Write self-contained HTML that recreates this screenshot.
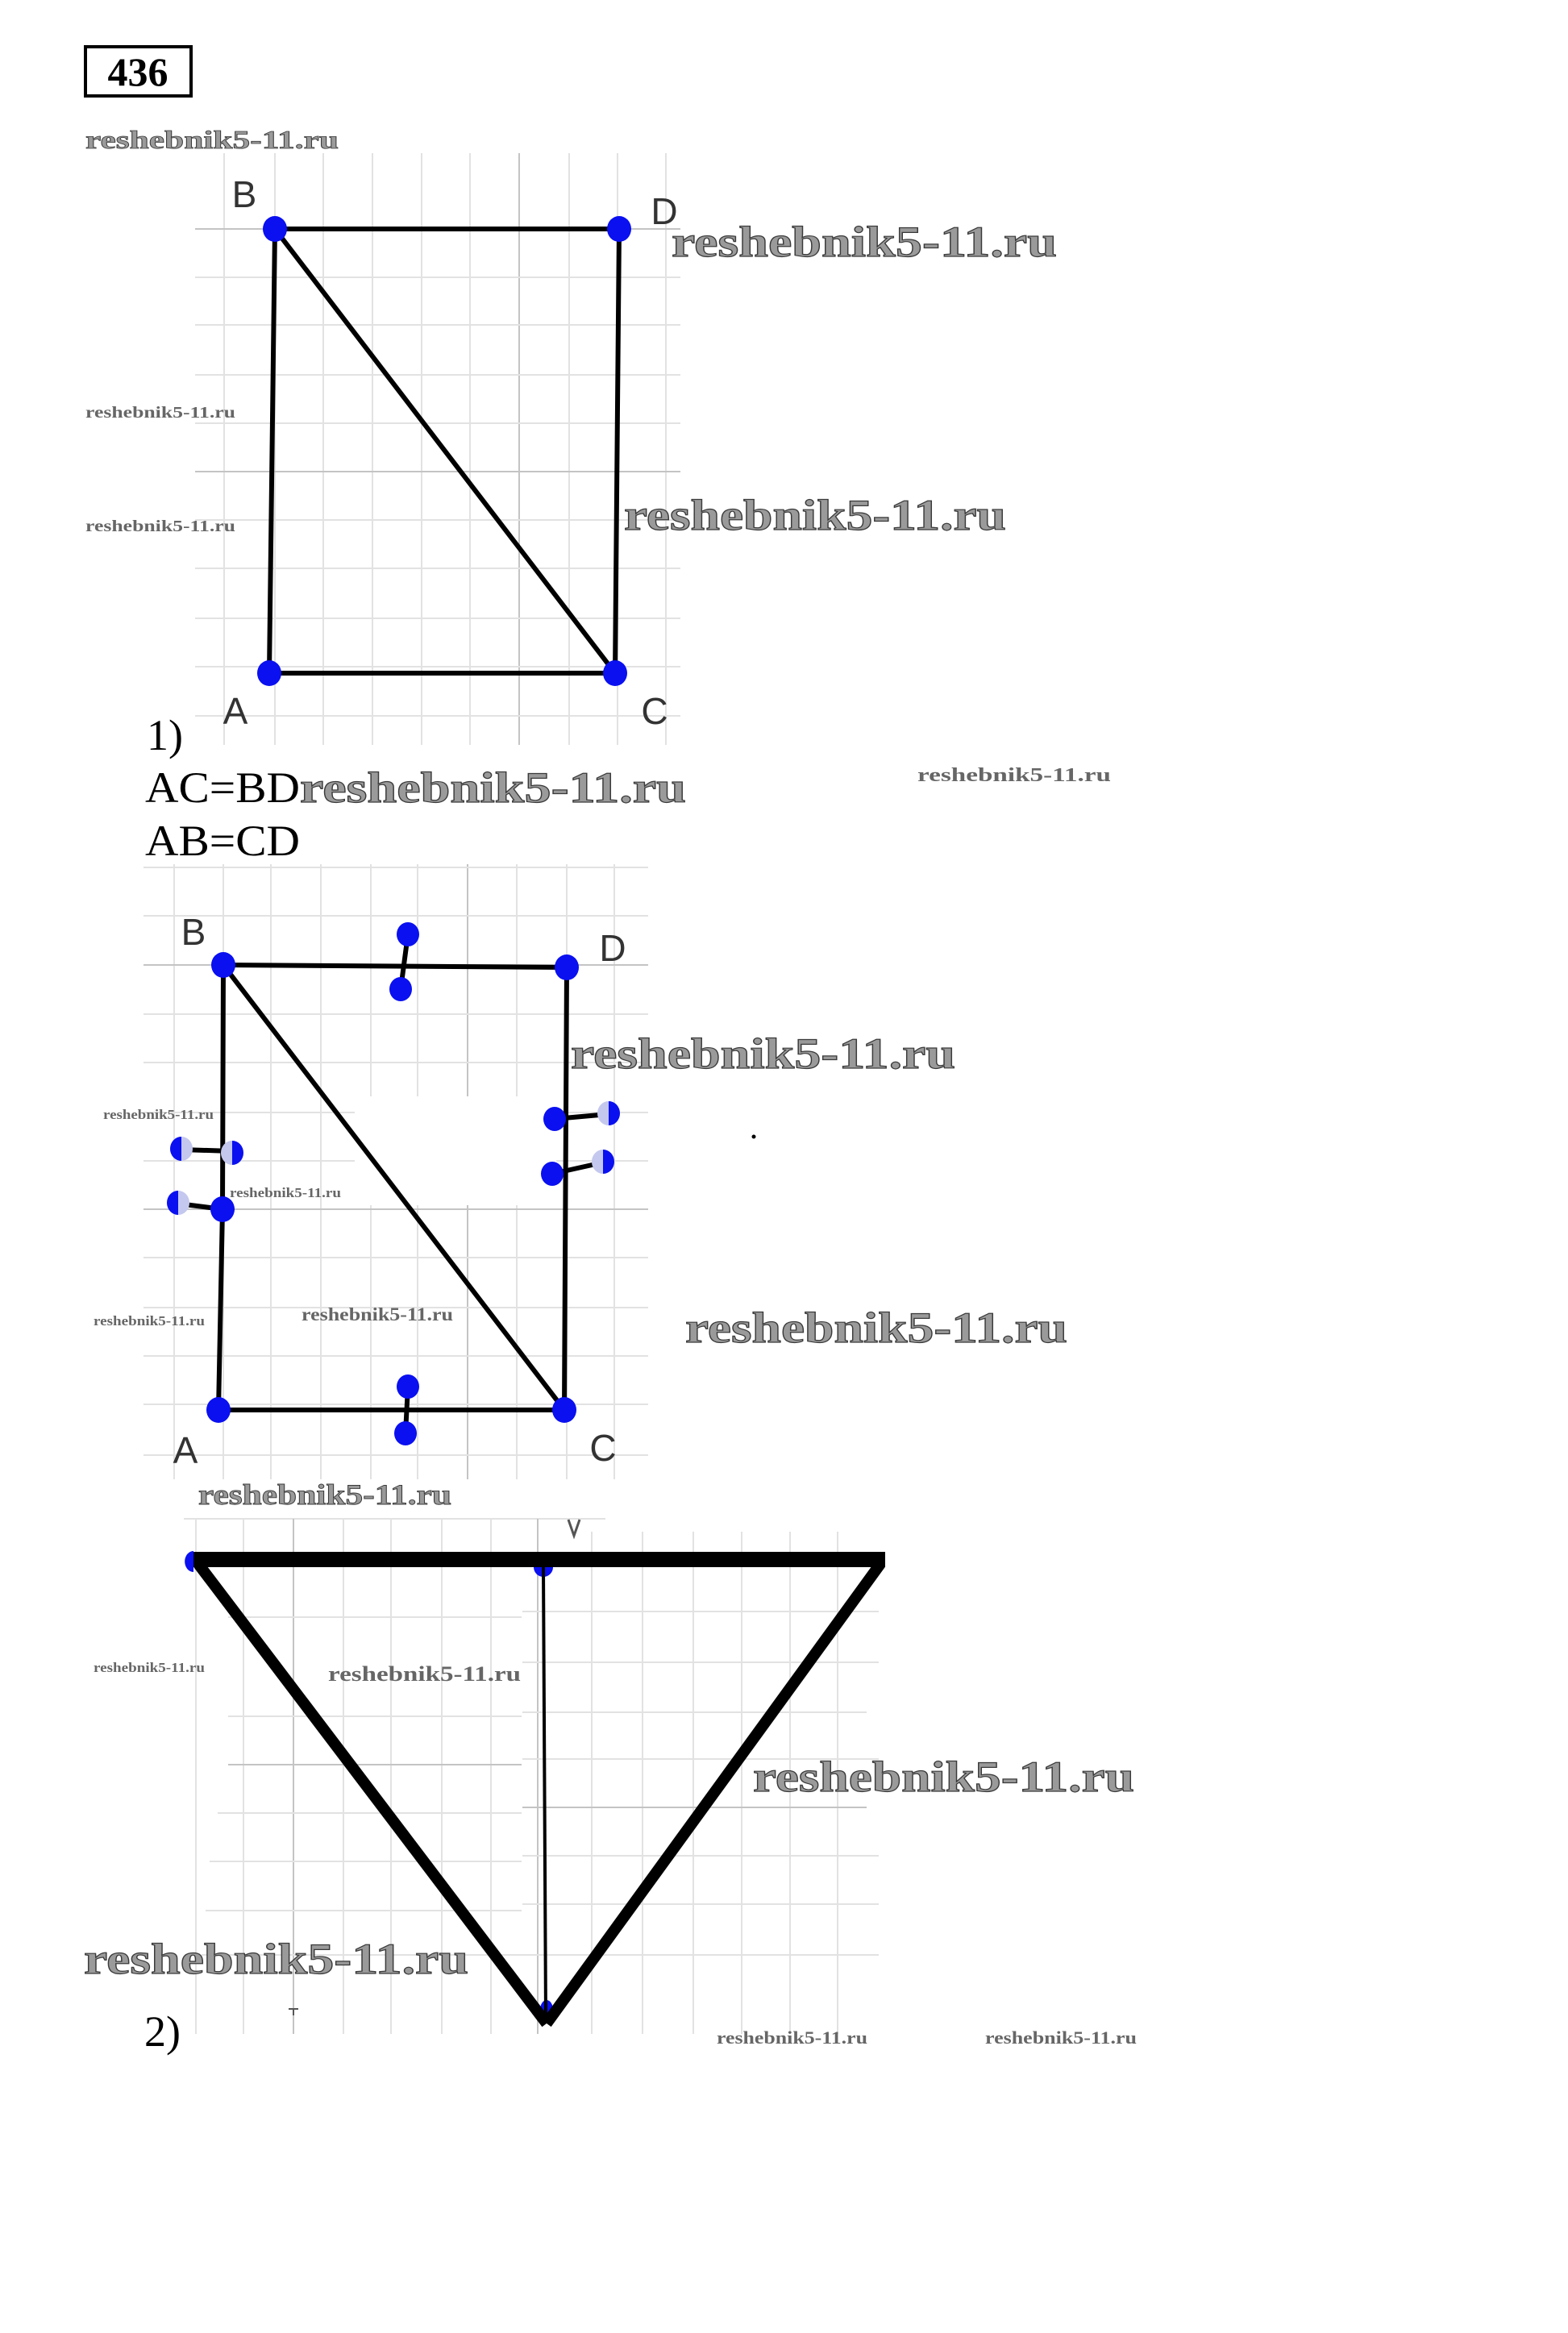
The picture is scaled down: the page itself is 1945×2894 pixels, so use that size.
<!DOCTYPE html>
<html><head><meta charset="utf-8"><style>
html,body{margin:0;padding:0;background:#fff;}
svg{display:block;}
.g{stroke:#e2e2e2;stroke-width:2;}
.gd{stroke:#c4c4c4;stroke-width:2;}
.wm{font-family:"Liberation Serif",serif;font-weight:bold;fill:#9a9a9a;stroke:#3a3a3a;stroke-width:1.2;}
.ws{font-family:"Liberation Serif",serif;font-weight:bold;fill:#666;}
.lb{font-family:"Liberation Sans",sans-serif;fill:#333;font-size:46px;}
.tx{font-family:"Liberation Serif",serif;fill:#000;font-size:54px;}
.pt{fill:#0a10f0;}
</style></head><body>
<svg width="1945" height="2894" viewBox="0 0 1945 2894" xmlns="http://www.w3.org/2000/svg">
<rect width="1945" height="2894" fill="#fff"/>
<!-- header -->
<rect x="106" y="58" width="131" height="61" fill="none" stroke="#000" stroke-width="4"/>
<text x="171" y="106" text-anchor="middle" style="font-family:'Liberation Serif',serif;font-weight:bold;font-size:50px">436</text>
<text class="wm" x="106" y="184" textLength="314" lengthAdjust="spacingAndGlyphs" font-size="32" style="stroke-width:0.8">reshebnik5-11.ru</text>

<!-- figure 1 grid -->
<g>
<line class="g" x1="278" y1="190" x2="278" y2="924"/><line class="g" x1="341" y1="190" x2="341" y2="924"/>
<line class="g" x1="401" y1="190" x2="401" y2="924"/><line class="g" x1="462" y1="190" x2="462" y2="924"/>
<line class="g" x1="523" y1="190" x2="523" y2="924"/><line class="g" x1="583" y1="190" x2="583" y2="924"/>
<line class="gd" x1="644" y1="190" x2="644" y2="924"/><line class="g" x1="706" y1="190" x2="706" y2="924"/>
<line class="g" x1="766" y1="190" x2="766" y2="924"/><line class="g" x1="826" y1="190" x2="826" y2="924"/>
<line class="gd" x1="242" y1="284" x2="844" y2="284"/><line class="g" x1="242" y1="344" x2="844" y2="344"/>
<line class="g" x1="242" y1="403" x2="844" y2="403"/><line class="g" x1="242" y1="465" x2="844" y2="465"/>
<line class="g" x1="242" y1="525" x2="844" y2="525"/><line class="gd" x1="242" y1="585" x2="844" y2="585"/>
<line class="g" x1="242" y1="645" x2="844" y2="645"/><line class="g" x1="242" y1="705" x2="844" y2="705"/>
<line class="g" x1="242" y1="767" x2="844" y2="767"/><line class="g" x1="242" y1="827" x2="844" y2="827"/>
<line class="g" x1="242" y1="888" x2="844" y2="888"/>
</g>
<g stroke="#000" stroke-width="6" fill="none" stroke-linecap="round">
<line x1="341" y1="284" x2="768" y2="284"/><line x1="341" y1="284" x2="334" y2="835"/>
<line x1="334" y1="835" x2="763" y2="835"/><line x1="768" y1="284" x2="763" y2="835"/>
<line x1="341" y1="284" x2="763" y2="835"/>
</g>
<ellipse class="pt" cx="341" cy="284" rx="15" ry="16"/><ellipse class="pt" cx="768" cy="284" rx="15" ry="16"/>
<ellipse class="pt" cx="334" cy="835" rx="15" ry="16"/><ellipse class="pt" cx="763" cy="835" rx="15" ry="16"/>
<text class="lb" x="303" y="257" text-anchor="middle">B</text>
<text class="lb" x="824" y="278" text-anchor="middle">D</text>
<text class="lb" x="292" y="898" text-anchor="middle">A</text>
<text class="lb" x="812" y="898" text-anchor="middle">C</text>
<text class="wm" x="833" y="318" textLength="478" lengthAdjust="spacingAndGlyphs" font-size="54">reshebnik5-11.ru</text>
<text class="wm" x="774" y="657" textLength="474" lengthAdjust="spacingAndGlyphs" font-size="54">reshebnik5-11.ru</text>
<text class="ws" x="106" y="518" textLength="186" lengthAdjust="spacingAndGlyphs" font-size="20">reshebnik5-11.ru</text>
<text class="ws" x="106" y="659" textLength="186" lengthAdjust="spacingAndGlyphs" font-size="20">reshebnik5-11.ru</text>
<text class="tx" x="182" y="930">1)</text>
<text class="tx" x="180" y="995" textLength="192" lengthAdjust="spacingAndGlyphs">AC=BD</text>
<text class="wm" x="372" y="995" textLength="479" lengthAdjust="spacingAndGlyphs" font-size="54">reshebnik5-11.ru</text>
<text class="ws" x="1138" y="969" textLength="240" lengthAdjust="spacingAndGlyphs" font-size="24">reshebnik5-11.ru</text>
<text class="tx" x="180" y="1061" textLength="192" lengthAdjust="spacingAndGlyphs">AB=CD</text>

<!-- figure 2 grid -->
<g>
<line class="g" x1="216" y1="1072" x2="216" y2="1835"/><line class="g" x1="277" y1="1072" x2="277" y2="1835"/>
<line class="g" x1="336" y1="1072" x2="336" y2="1835"/><line class="g" x1="398" y1="1072" x2="398" y2="1835"/>
<line class="g" x1="460" y1="1072" x2="460" y2="1835"/><line class="g" x1="518" y1="1072" x2="518" y2="1835"/>
<line class="gd" x1="580" y1="1072" x2="580" y2="1835"/><line class="g" x1="641" y1="1072" x2="641" y2="1835"/>
<line class="g" x1="703" y1="1072" x2="703" y2="1835"/><line class="g" x1="762" y1="1072" x2="762" y2="1835"/>
<line class="g" x1="178" y1="1076" x2="804" y2="1076"/><line class="g" x1="178" y1="1136" x2="804" y2="1136"/>
<line class="gd" x1="178" y1="1197" x2="804" y2="1197"/><line class="g" x1="178" y1="1258" x2="804" y2="1258"/>
<line class="g" x1="178" y1="1318" x2="804" y2="1318"/><line class="g" x1="178" y1="1380" x2="804" y2="1380"/>
<line class="g" x1="178" y1="1440" x2="804" y2="1440"/><line class="gd" x1="178" y1="1500" x2="804" y2="1500"/>
<line class="g" x1="178" y1="1560" x2="804" y2="1560"/><line class="g" x1="178" y1="1622" x2="804" y2="1622"/>
<line class="g" x1="178" y1="1682" x2="804" y2="1682"/><line class="g" x1="178" y1="1742" x2="804" y2="1742"/>
<line class="g" x1="178" y1="1805" x2="804" y2="1805"/>
</g>
<rect x="440" y="1360" width="250" height="135" fill="#fff"/>
<g stroke="#000" stroke-width="6" fill="none" stroke-linecap="round">
<line x1="277" y1="1197" x2="703" y2="1200"/><line x1="277" y1="1197" x2="276" y2="1500"/>
<line x1="276" y1="1500" x2="271" y2="1749"/><line x1="271" y1="1749" x2="700" y2="1749"/>
<line x1="703" y1="1200" x2="700" y2="1749"/><line x1="277" y1="1197" x2="700" y2="1749"/>
<line x1="506" y1="1159" x2="497" y2="1227"/><line x1="506" y1="1720" x2="503" y2="1778"/>
<line x1="225" y1="1426" x2="288" y2="1428"/><line x1="221" y1="1493" x2="276" y2="1500"/>
<line x1="688" y1="1388" x2="755" y2="1382"/><line x1="685" y1="1456" x2="748" y2="1442"/>
</g>
<ellipse class="pt" cx="277" cy="1197" rx="15" ry="16"/><ellipse class="pt" cx="703" cy="1200" rx="15" ry="16"/>
<ellipse class="pt" cx="271" cy="1749" rx="15" ry="16"/><ellipse class="pt" cx="700" cy="1749" rx="15" ry="16"/>
<ellipse class="pt" cx="276" cy="1500" rx="15" ry="16"/>
<ellipse class="pt" cx="506" cy="1159" rx="14" ry="15"/><ellipse class="pt" cx="497" cy="1227" rx="14" ry="15"/>
<ellipse class="pt" cx="506" cy="1720" rx="14" ry="15"/><ellipse class="pt" cx="503" cy="1778" rx="14" ry="15"/>
<ellipse fill="#c4c8ee" cx="225" cy="1425" rx="14" ry="15"/><path class="pt" d="M225 1410 A14 15 0 0 0 225 1440 Z"/>
<ellipse fill="#c4c8ee" cx="288" cy="1430" rx="14" ry="15"/><path class="pt" d="M288 1415 A14 15 0 0 1 288 1445 Z"/>
<ellipse fill="#c4c8ee" cx="221" cy="1492" rx="14" ry="15"/><path class="pt" d="M221 1477 A14 15 0 0 0 221 1507 Z"/>
<ellipse class="pt" cx="688" cy="1388" rx="14" ry="15"/>
<ellipse fill="#c4c8ee" cx="755" cy="1381" rx="14" ry="15"/><path class="pt" d="M755 1366 A14 15 0 0 1 755 1396 Z"/>
<ellipse class="pt" cx="685" cy="1456" rx="14" ry="15"/>
<ellipse fill="#c4c8ee" cx="748" cy="1441" rx="14" ry="15"/><path class="pt" d="M748 1426 A14 15 0 0 1 748 1456 Z"/>
<text class="lb" x="240" y="1172" text-anchor="middle">B</text>
<text class="lb" x="760" y="1192" text-anchor="middle">D</text>
<text class="lb" x="230" y="1815" text-anchor="middle">A</text>
<text class="lb" x="748" y="1812" text-anchor="middle">C</text>
<text class="wm" x="708" y="1325" textLength="477" lengthAdjust="spacingAndGlyphs" font-size="54">reshebnik5-11.ru</text>
<text class="wm" x="850" y="1665" textLength="474" lengthAdjust="spacingAndGlyphs" font-size="54">reshebnik5-11.ru</text>
<text class="ws" x="128" y="1388" textLength="137" lengthAdjust="spacingAndGlyphs" font-size="17">reshebnik5-11.ru</text>
<text class="ws" x="285" y="1485" textLength="138" lengthAdjust="spacingAndGlyphs" font-size="17">reshebnik5-11.ru</text>
<text class="ws" x="116" y="1644" textLength="138" lengthAdjust="spacingAndGlyphs" font-size="17">reshebnik5-11.ru</text>
<text class="ws" x="374" y="1638" textLength="188" lengthAdjust="spacingAndGlyphs" font-size="23">reshebnik5-11.ru</text>
<text class="wm" x="246" y="1866" textLength="314" lengthAdjust="spacingAndGlyphs" font-size="36" style="stroke-width:0.9">reshebnik5-11.ru</text>
<circle cx="935" cy="1410" r="2.5" fill="#000"/>

<!-- figure 3 grid -->
<g>
<line class="g" x1="228" y1="1884" x2="751" y2="1884"/>
<line class="g" x1="243" y1="1884" x2="243" y2="2523"/><line class="g" x1="302" y1="1884" x2="302" y2="2523"/>
<line class="gd" x1="364" y1="1884" x2="364" y2="2523"/><line class="g" x1="426" y1="1884" x2="426" y2="2523"/>
<line class="g" x1="485" y1="1884" x2="485" y2="2523"/><line class="g" x1="548" y1="1884" x2="548" y2="2523"/>
<line class="g" x1="609" y1="1884" x2="609" y2="2523"/><line class="gd" x1="667" y1="1884" x2="667" y2="2523"/>
<line class="g" x1="734" y1="1900" x2="734" y2="2523"/><line class="g" x1="797" y1="1900" x2="797" y2="2523"/>
<line class="g" x1="860" y1="1900" x2="860" y2="2523"/><line class="g" x1="920" y1="1900" x2="920" y2="2523"/>
<line class="g" x1="980" y1="1900" x2="980" y2="2523"/><line class="g" x1="1039" y1="1900" x2="1039" y2="2523"/>
<line class="g" x1="283" y1="2006" x2="647" y2="2006"/><line class="g" x1="283" y1="2129" x2="647" y2="2129"/>
<line class="gd" x1="283" y1="2189" x2="647" y2="2189"/><line class="g" x1="270" y1="2249" x2="647" y2="2249"/>
<line class="g" x1="260" y1="2309" x2="647" y2="2309"/><line class="g" x1="255" y1="2370" x2="647" y2="2370"/>
<line class="g" x1="250" y1="2425" x2="1090" y2="2425"/>
<line class="g" x1="648" y1="1999" x2="1090" y2="1999"/><line class="g" x1="648" y1="2062" x2="1090" y2="2062"/>
<line class="g" x1="648" y1="2124" x2="1075" y2="2124"/><line class="g" x1="648" y1="2182" x2="1090" y2="2182"/>
<line class="gd" x1="648" y1="2242" x2="1075" y2="2242"/><line class="g" x1="648" y1="2302" x2="1090" y2="2302"/>
<line class="g" x1="648" y1="2362" x2="1090" y2="2362"/>
</g>
<path d="M705 1885 L712 1905 L719 1885" fill="none" stroke="#555" stroke-width="3"/>
<path class="pt" d="M240 1924 A10 12 0 0 0 240 1950 Z"/>
<path class="pt" d="M662 1944 A12 12 0 0 0 686 1944 Z"/>
<ellipse class="pt" cx="678" cy="2493" rx="8" ry="12"/>
<line x1="674" y1="1944" x2="677" y2="2505" stroke="#000" stroke-width="4"/>
<g stroke="#000" stroke-width="14" fill="none" stroke-linejoin="miter">
<line x1="246" y1="1940" x2="678" y2="2510"/>
<line x1="1092" y1="1940" x2="678" y2="2510"/>
</g>
<rect x="240" y="1925" width="858" height="19" fill="#000"/>
<line x1="364" y1="2492" x2="364" y2="2500" stroke="#555" stroke-width="2"/>
<line x1="358" y1="2492" x2="370" y2="2492" stroke="#555" stroke-width="2"/>
<text class="wm" x="934" y="2222" textLength="473" lengthAdjust="spacingAndGlyphs" font-size="54">reshebnik5-11.ru</text>
<text class="wm" x="104" y="2448" textLength="477" lengthAdjust="spacingAndGlyphs" font-size="54">reshebnik5-11.ru</text>
<text class="ws" x="407" y="2085" textLength="239" lengthAdjust="spacingAndGlyphs" font-size="26">reshebnik5-11.ru</text>
<text class="ws" x="116" y="2074" textLength="138" lengthAdjust="spacingAndGlyphs" font-size="17">reshebnik5-11.ru</text>
<text class="ws" x="889" y="2535" textLength="187" lengthAdjust="spacingAndGlyphs" font-size="22">reshebnik5-11.ru</text>
<text class="ws" x="1222" y="2535" textLength="188" lengthAdjust="spacingAndGlyphs" font-size="22">reshebnik5-11.ru</text>
<text class="tx" x="179" y="2538">2)</text>
</svg>
</body></html>
